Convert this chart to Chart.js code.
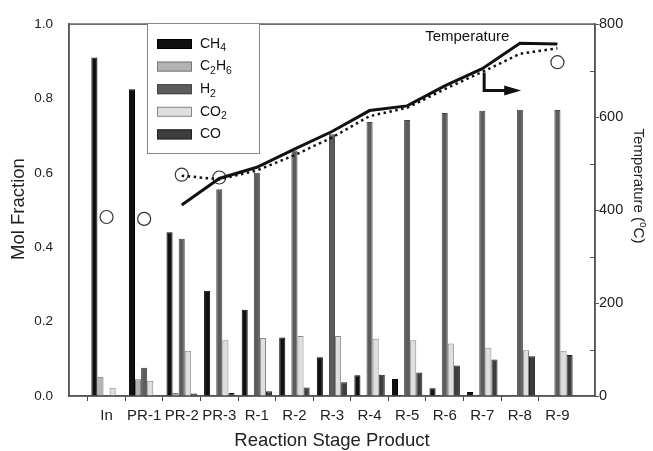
<!DOCTYPE html>
<html>
<head>
<meta charset="utf-8">
<script src="https://cdn.jsdelivr.net/npm/chart.js@4.4.1/dist/chart.umd.min.js"></script>
<style>
  body { margin: 0; background: #fff; }
  #wrap { width: 653px; height: 451px; }
</style>
</head>
<body>
<div id="wrap"><canvas id="chart" width="653" height="451"></canvas></div>
<script>
// ---------- DATA ----------
var categories = ["In", "PR-1", "PR-2", "PR-3", "R-1", "R-2", "R-3", "R-4", "R-5", "R-6", "R-7", "R-8", "R-9"];
var ch4  = [0.91, 0.825, 0.44, 0.283, 0.232, 0.157, 0.104, 0.056, 0.046, 0.021, 0.011, 0, 0];
var c2h6 = [0.052, 0.045, 0.008, 0, 0, 0, 0, 0, 0, 0, 0, 0, 0];
var h2   = [0, 0.076, 0.423, 0.556, 0.6, 0.66, 0.704, 0.737, 0.742, 0.761, 0.767, 0.77, 0.769];
var co2  = [0.022, 0.041, 0.122, 0.15, 0.156, 0.161, 0.161, 0.154, 0.15, 0.141, 0.13, 0.123, 0.122];
var co   = [0, 0, 0.007, 0.008, 0.013, 0.023, 0.037, 0.057, 0.063, 0.082, 0.098, 0.107, 0.11];

// temperatures (°C)
var tempSolid  = [null, null, 411, 468, 492, 531, 569, 614, 624, 667, 704, 759, 757];
var tempDotted = [null, null, 474, 466, 485, 518, 556, 602, 620, 660, 697, 736, 748];
var tempPoints = [385, 381, 476, 470, null, null, null, null, null, null, null, null, 718];

var fracTicks = [0, 0.2, 0.4, 0.6, 0.8, 1.0];
var tempTicks = [0, 200, 400, 600, 800];
var tempMinor = [100, 300, 500, 700];

var FONT = "'Liberation Sans', Arial, sans-serif";

function toXY(arr) {
  return arr.map(function (v, i) { return { x: i, y: v }; });
}

// legend entries: [text, subscript] pieces
var legendItems = [
  { parts: [["CH", 0], ["4", 1]], fill: "#111111", border: "#000000" },
  { parts: [["C", 0], ["2", 1], ["H", 0], ["6", 1]], fill: "#b3b3b3", border: "#777777" },
  { parts: [["H", 0], ["2", 1]], fill: "#5c5c5c", border: "#444444" },
  { parts: [["CO", 0], ["2", 1]], fill: "#dedede", border: "#888888" },
  { parts: [["CO", 0]], fill: "#3d3d3d", border: "#222222" }
];

function drawChem(ctx, parts, x, y, size) {
  ctx.textBaseline = "middle";
  ctx.textAlign = "left";
  parts.forEach(function (p) {
    if (p[1]) {
      ctx.font = (size * 0.75) + "px " + FONT;
      ctx.fillText(p[0], x, y + size * 0.32);
    } else {
      ctx.font = size + "px " + FONT;
      ctx.fillText(p[0], x, y);
    }
    x += ctx.measureText(p[0]).width;
  });
}

// ---------- EXTRA DRAWING ----------
var extras = {
  id: "extras",
  afterDatasetsDraw: function (chart) {
    var ctx = chart.ctx, a = chart.chartArea;
    var xs = chart.scales.x, yT = chart.scales.yT;
    ctx.save();

    // frame round plot
    ctx.strokeStyle = "#555";
    ctx.lineWidth = 1.5;
    ctx.strokeRect(a.left, a.top, a.right - a.left, a.bottom - a.top);

    // minor ticks on temperature axis (inward)
    ctx.lineWidth = 1;
    tempMinor.forEach(function (t) {
      var py = Math.round(yT.getPixelForValue(t)) + 0.5;
      ctx.beginPath();
      ctx.moveTo(a.right - 5, py);
      ctx.lineTo(a.right, py);
      ctx.stroke();
    });

    // "Temperature" label + arrow
    ctx.fillStyle = "#111";
    ctx.font = "15px " + FONT;
    ctx.textAlign = "center";
    ctx.textBaseline = "middle";
    ctx.fillText("Temperature", xs.getPixelForValue(9.6), yT.getPixelForValue(773));

    var ax = xs.getPixelForValue(10.05), ay = yT.getPixelForValue(657);
    ctx.strokeStyle = "#111";
    ctx.lineWidth = 3;
    ctx.lineCap = "butt";
    ctx.beginPath();
    ctx.moveTo(ax, yT.getPixelForValue(696));
    ctx.lineTo(ax, ay);
    ctx.lineTo(ax + 22, ay);
    ctx.stroke();
    ctx.fillStyle = "#111";
    ctx.beginPath();
    ctx.moveTo(ax + 20, ay - 5);
    ctx.lineTo(ax + 37, ay);
    ctx.lineTo(ax + 20, ay + 5);
    ctx.closePath();
    ctx.fill();

    // axis titles
    ctx.fillStyle = "#222";
    ctx.font = "18.5px " + FONT;
    ctx.textAlign = "center";
    ctx.fillText("Reaction Stage Product", (a.left + a.right) / 2, 441);

    ctx.save();
    ctx.translate(19, 209);
    ctx.rotate(-Math.PI / 2);
    ctx.fillText("Mol Fraction", 0, 0);
    ctx.restore();

    ctx.save();
    ctx.translate(638, 186);
    ctx.rotate(Math.PI / 2);
    ctx.font = "15px " + FONT;
    var t1 = "Temperature (", t2 = "o", t3 = "C)";
    var w1 = ctx.measureText(t1).width, w3 = ctx.measureText(t3).width;
    ctx.font = "10px " + FONT;
    var w2 = ctx.measureText(t2).width;
    var sx = -(w1 + w2 + w3) / 2;
    ctx.textAlign = "left";
    ctx.font = "15px " + FONT;
    ctx.fillText(t1, sx, 0);
    ctx.font = "10px " + FONT;
    ctx.fillText(t2, sx + w1, -5);
    ctx.font = "15px " + FONT;
    ctx.fillText(t3, sx + w1 + w2, 0);
    ctx.restore();

    // legend box
    ctx.fillStyle = "#fff";
    ctx.fillRect(147, 23, 112, 130);
    ctx.strokeStyle = "#888";
    ctx.lineWidth = 1;
    ctx.strokeRect(147.5, 23.5, 112, 130);
    legendItems.forEach(function (it, i) {
      var cy = 44 + i * 22.6;
      ctx.fillStyle = it.fill;
      ctx.fillRect(157, cy - 5, 35, 10);
      ctx.strokeStyle = it.border;
      ctx.strokeRect(157.5, cy - 4.5, 34, 9);
      ctx.fillStyle = "#111";
      drawChem(ctx, it.parts, 200, cy, 14);
    });

    ctx.restore();
  }
};

function barSet(label, values, fill, border) {
  return {
    type: "bar",
    label: label,
    data: toXY(values),
    backgroundColor: fill,
    borderColor: border,
    borderWidth: 1,
    borderSkipped: "start",
    categoryPercentage: 0.81,
    barPercentage: 1.0,
    yAxisID: "y",
    order: 2
  };
}

new Chart(document.getElementById("chart"), {
  type: "bar",
  data: {
    datasets: [
      {
        type: "line",
        label: "Temperature",
        data: toXY(tempSolid),
        borderColor: "#111",
        borderWidth: 3,
        pointRadius: 0,
        tension: 0,
        yAxisID: "yT",
        order: 0
      },
      {
        type: "line",
        label: "Temperature (dotted)",
        data: toXY(tempDotted),
        borderColor: "#111",
        borderWidth: 2.5,
        borderDash: [2.5, 3.5],
        pointRadius: 0,
        tension: 0,
        yAxisID: "yT",
        order: 0
      },
      {
        type: "line",
        label: "Measured",
        data: toXY(tempPoints),
        showLine: false,
        pointRadius: 6.5,
        pointBackgroundColor: "#fff",
        pointBorderColor: "#333",
        pointBorderWidth: 1.2,
        yAxisID: "yT",
        order: 0
      },
      barSet("CH4", ch4, "#111111", "#000000"),
      barSet("C2H6", c2h6, "#b3b3b3", "#777777"),
      barSet("H2", h2, "#5c5c5c", "#444444"),
      barSet("CO2", co2, "#dedede", "#888888"),
      barSet("CO", co, "#3d3d3d", "#222222")
    ]
  },
  options: {
    responsive: false,
    animation: false,
    layout: { padding: { top: 18, left: 0, right: 0, bottom: 0 } },
    plugins: {
      legend: { display: false },
      tooltip: { enabled: false }
    },
    scales: {
      x: {
        type: "linear",
        min: -1,
        max: 13,
        offset: false,
        afterFit: function (s) { s.height = 55; },
        grid: {
          drawOnChartArea: false,
          drawTicks: true,
          tickLength: 5,
          color: function (c) {
            return (c.tick && (c.tick.value < 0 || c.tick.value > 12)) ? "rgba(0,0,0,0)" : "#444";
          }
        },
        border: { display: true, color: "#555", width: 1.5 },
        ticks: {
          stepSize: 1,
          autoSkip: false,
          maxRotation: 0,
          padding: 6,
          color: "#222",
          font: { family: FONT, size: 15 },
          callback: function (v) { return categories[v] || ""; }
        }
      },
      y: {
        position: "left",
        min: 0,
        max: 1,
        afterFit: function (s) { s.width = 69; },
        afterBuildTicks: function (s) { s.ticks = fracTicks.map(function (v) { return { value: v }; }); },
        grid: { display: false, drawTicks: false },
        border: { display: true, color: "#555", width: 1.5 },
        ticks: {
          padding: 16,
          color: "#222",
          font: { family: FONT, size: 13.5 },
          callback: function (v) { return v.toFixed(1); }
        }
      },
      yT: {
        position: "right",
        min: 0,
        max: 800,
        afterFit: function (s) { s.width = 58; },
        afterBuildTicks: function (s) { s.ticks = tempTicks.map(function (v) { return { value: v }; }); },
        grid: { drawOnChartArea: false, drawTicks: true, tickLength: 4, color: "#555" },
        border: { display: true, color: "#555", width: 1.5 },
        ticks: {
          padding: 0,
          color: "#222",
          font: { family: FONT, size: 14.5 },
          callback: function (v) { return String(v); }
        }
      }
    }
  },
  plugins: [extras]
});
</script>
</body>
</html>
